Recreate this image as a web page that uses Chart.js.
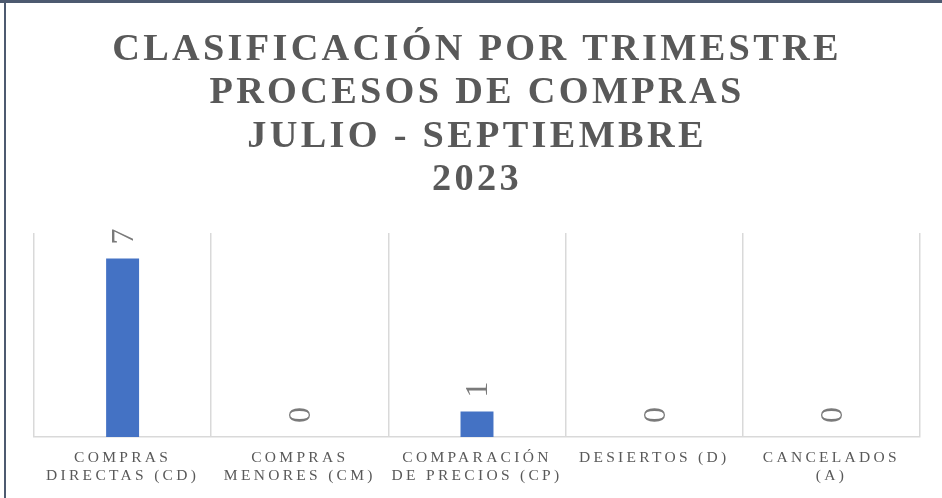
<!DOCTYPE html>
<html>
<head>
<meta charset="utf-8">
<script src="https://cdn.jsdelivr.net/npm/chart.js@4.4.0/dist/chart.umd.min.js"></script>
<style>
  html, body { margin: 0; padding: 0; background: #fff; }
  #wrap { position: relative; width: 942px; height: 498px; }
  .edge { position: absolute; background: #4d5a70; pointer-events: none; }
</style>
</head>
<body>
<div id="wrap">
  <canvas id="myChart" width="942" height="498"></canvas>
  <div class="edge" style="left:0;top:0;width:942px;height:3px"></div>
  <div class="edge" style="left:4px;top:0;width:2px;height:498px"></div>
</div>
<script>
const categories = [
  ['COMPRAS', 'DIRECTAS (CD)'],
  ['COMPRAS', 'MENORES (CM)'],
  ['COMPARACIÓN', 'DE PRECIOS (CP)'],
  ['DESIERTOS (D)'],
  ['CANCELADOS', '(A)']
]
const procesos = [7, 0, 1, 0, 0]
const titleLines = ['CLASIFICACIÓN POR TRIMESTRE', 'PROCESOS DE COMPRAS', 'JULIO - SEPTIEMBRE', '2023']

// letter spacing for title + tick labels (excel style)
const spacing = {
  id: 'spacing',
  beforeDraw(chart) { chart.ctx.letterSpacing = '3.3px' },
  afterDraw(chart) { chart.ctx.letterSpacing = '0px' }
}

// rotated value labels above the bars
const valueLabels = {
  id: 'valueLabels',
  afterDatasetsDraw(chart) {
    const ctx = chart.ctx
    const meta = chart.getDatasetMeta(0)
    ctx.save()
    ctx.letterSpacing = '0px'
    ctx.font = '32px "Liberation Serif"'
    ctx.fillStyle = '#7a7a7a'
    ctx.textAlign = 'left'
    ctx.textBaseline = 'middle'
    meta.data.forEach(function(bar, i) {
      ctx.save()
      ctx.translate(bar.x + 2, bar.y - 14)
      ctx.rotate(-Math.PI / 2)
      ctx.fillText(String(procesos[i]), 0, 0)
      ctx.restore()
    })
    ctx.restore()
  }
}

const ctx = document.getElementById('myChart')

new Chart(ctx, {
  type: 'bar',
  data: {
    labels: categories,
    datasets: [{
      label: 'Procesos',
      data: procesos,
      backgroundColor: '#4472c4',
      barPercentage: 0.186,
      categoryPercentage: 1
    }]
  },
  options: {
    responsive: false,
    animation: false,
    layout: { padding: { left: 34, right: 22, top: 0, bottom: 1 } },
    plugins: {
      legend: { display: false },
      tooltip: { enabled: false },
      title: {
        display: true,
        text: titleLines,
        color: '#595959',
        font: { family: '"Liberation Serif"', size: 38.3, weight: 'bold', lineHeight: 1.135 },
        padding: { top: 28, bottom: 31 }
      }
    },
    scales: {
      x: {
        offset: true,
        grid: { offset: true, color: '#d9d9d9', lineWidth: 1.5, drawTicks: false },
        border: { color: '#d9d9d9', width: 1.5 },
        ticks: {
          color: '#595959',
          font: { family: '"Liberation Serif"', size: 15.5, lineHeight: 1.16 },
          padding: 12,
          maxRotation: 0,
          autoSkip: false
        }
      },
      y: {
        display: false,
        min: 0,
        max: 8
      }
    }
  },
  plugins: [spacing, valueLabels]
})
</script>
</body>
</html>
